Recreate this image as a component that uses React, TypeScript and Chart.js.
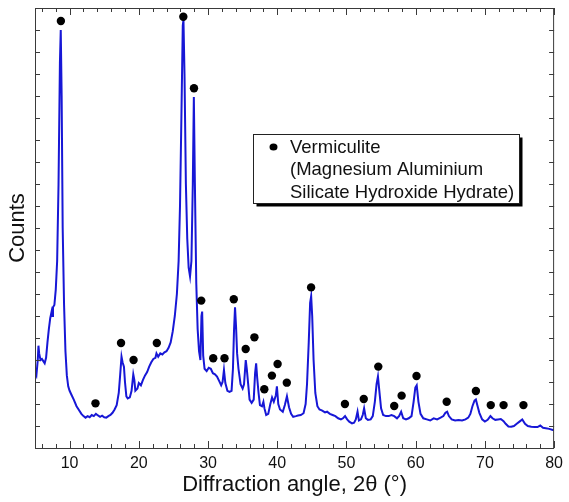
import { useEffect, useRef } from "react";
import { Chart, registerables } from "chart.js";

Chart.register(...registerables);

// XRD pattern: 2θ (deg) and intensity (arbitrary counts)
const twoTheta = [
  5.0, 5.2, 5.4, 5.5, 5.6, 5.8, 6.0, 6.2, 6.4, 6.6, 6.8, 7.0, 7.2, 7.4, 7.5, 7.6, 7.8, 8.0, 8.2, 8.4,
  8.6, 8.72, 8.85, 9.0, 9.2, 9.4, 9.6, 9.8, 10.0, 10.3, 10.6, 11.0, 11.3, 11.7, 12.0, 12.3, 12.6, 12.9, 13.2, 13.5,
  13.8, 14.1, 14.4, 14.7, 15.0, 15.3, 15.6, 15.9, 16.2, 16.5, 16.8, 17.1, 17.3, 17.5, 17.65, 17.85, 18.0, 18.2, 18.4, 18.7,
  18.95, 19.2, 19.35, 19.5, 19.8, 20.0, 20.3, 20.6, 20.9, 21.2, 21.5, 21.8, 22.1, 22.4, 22.55, 22.8, 23.1, 23.4, 23.7, 24.0,
  24.3, 24.6, 24.9, 25.2, 25.5, 25.75, 25.95, 26.15, 26.35, 26.45, 26.6, 26.8, 27.0, 27.2, 27.4, 27.6, 27.8, 27.95, 28.1, 28.3,
  28.5, 28.7, 28.9, 29.05, 29.15, 29.3, 29.5, 29.8, 30.1, 30.4, 30.7, 31.0, 31.3, 31.6, 31.9, 32.1, 32.3, 32.5, 32.8, 33.1,
  33.4, 33.6, 33.75, 33.9, 34.05, 34.2, 34.4, 34.7, 35.0, 35.2, 35.45, 35.6, 35.8, 36.0, 36.3, 36.6, 36.8, 36.95, 37.1, 37.3,
  37.5, 37.8, 38.0, 38.15, 38.4, 38.7, 39.0, 39.25, 39.5, 39.8, 39.95, 40.15, 40.4, 40.8, 41.1, 41.4, 41.7, 42.0, 42.3, 42.7,
  43.0, 43.4, 43.8, 44.1, 44.3, 44.55, 44.75, 44.9, 45.05, 45.25, 45.5, 45.8, 46.1, 46.5, 46.9, 47.2, 47.6, 48.0, 48.4, 48.8,
  49.2, 49.5, 49.8, 50.1, 50.4, 50.8, 51.1, 51.35, 51.6, 51.8, 52.1, 52.35, 52.55, 52.8, 53.1, 53.5, 53.8, 54.1, 54.35, 54.55,
  54.75, 55.0, 55.3, 55.7, 56.1, 56.5, 56.9, 57.3, 57.6, 57.9, 58.2, 58.6, 59.0, 59.4, 59.7, 59.95, 60.15, 60.4, 60.7, 61.1,
  61.6, 62.1, 62.6, 63.1, 63.6, 64.0, 64.3, 64.55, 64.8, 65.2, 65.7, 66.2, 66.7, 67.2, 67.6, 67.9, 68.2, 68.5, 68.7, 68.9,
  69.2, 69.6, 70.0, 70.4, 70.8, 71.1, 71.5, 71.9, 72.3, 72.7, 73.0, 73.4, 73.8, 74.2, 74.6, 75.0, 75.4, 75.8, 76.2, 76.7,
  77.2, 77.6, 78.0, 78.4, 78.8, 79.3, 79.8, 80.0,
];

const counts = [
  345, 330, 400, 465, 430, 400, 405, 395, 385, 410, 480, 540, 590, 620, 600, 640, 650, 720, 850, 1200,
  1750, 1900, 1600, 1000, 650, 440, 330, 280, 260, 240, 220, 190, 175, 155, 145, 138, 145, 140, 150, 145,
  155, 148, 142, 147, 140, 138, 145, 150, 160, 175, 195, 250, 330, 415, 390, 370, 300, 235, 225, 230,
  260, 335, 310, 260, 270, 295, 285, 310, 330, 345, 370, 390, 405, 410, 430, 415, 430, 425, 435, 440,
  455, 480, 530, 600, 700, 850, 1100, 1500, 1920, 1945, 1700, 1200, 950, 820, 780, 850, 1200, 1595, 1200, 750,
  540, 440, 400, 600, 620, 420, 360, 350, 365, 360, 340, 335, 325, 305, 285, 300, 355, 295, 260, 255,
  260, 360, 530, 640, 550, 430, 360, 290, 270, 290, 400, 360, 290, 220, 205, 220, 340, 385, 320, 250,
  195, 190, 210, 180, 150, 155, 200, 230, 210, 240, 280, 200, 175, 165, 195, 235, 185, 155, 142, 145,
  148, 150, 158, 200, 290, 480, 660, 690, 600, 400, 250, 190, 175, 170, 162, 165, 155, 150, 145, 135,
  130, 135, 145, 130, 120, 112, 115, 130, 165, 125, 130, 150, 180, 135, 128, 130, 145, 210, 290, 325,
  260, 180, 150, 145, 145, 150, 145, 135, 145, 165, 135, 130, 135, 145, 210, 275, 285, 210, 155, 135,
  130, 125, 135, 130, 138, 145, 160, 165, 145, 130, 125, 127, 125, 130, 138, 155, 190, 215, 220, 195,
  160, 130, 120, 128, 145, 135, 128, 130, 132, 122, 110, 98, 97, 100, 110, 120, 130, 110, 100, 97,
  95, 95, 102, 92, 90, 87, 82, 82,
];

// Vermiculite reflections marked with dots
const peakTheta = [
  8.74, 13.74, 17.43, 19.24, 22.6, 26.43, 27.97, 29.02, 30.75, 32.38, 33.72, 35.44, 36.7, 38.13, 39.23,
  40.05, 41.38, 44.89, 49.78, 52.5, 54.6, 56.9, 57.97, 60.12, 64.48, 68.7, 70.85, 72.7, 75.57,
];
const peakCounts = [
  1941, 203, 477, 400, 477, 1960, 1635, 670, 408, 408, 676, 450, 503, 267, 329,
  382, 297, 730, 200, 223, 370, 191, 238, 327, 210, 259, 195, 195, 195,
];

const xTickValues = [10, 20, 30, 40, 50, 60, 70, 80];
const xTickLabels = ["10", "20", "30", "40", "50", "60", "70", "80"];
const xMarkTicks = [6, 8, 10, 12, 14, 16, 18, 20, 22, 24, 26, 28, 30, 32, 34, 36, 38, 40, 42, 44, 46, 48, 50, 52, 54, 56, 58, 60, 62, 64, 66, 68, 70, 72, 74, 76, 78, 80];
const yMarkTicks = [100, 200, 300, 400, 500, 600, 700, 800, 900, 1000, 1100, 1200, 1300, 1400, 1500, 1600, 1700, 1800, 1900];

const xTitle = "Diffraction angle, 2\u03b8 (\u00b0)";
const yTitle = "Counts";
const legendLines = ["Vermiculite", "(Magnesium Aluminium", "Silicate Hydroxide Hydrate)"];

const FONT = "'Liberation Sans', Arial, sans-serif";
const LINE_BLUE = "#1717d6";

const frameTicksLegend = {
  id: "frameTicksLegend",
  afterDatasetsDraw(chart: any) {
    const { ctx, chartArea: a, scales } = chart;
    const x = scales.x;
    const y = scales.y;
    ctx.save();
    ctx.strokeStyle = "#3a3a3a";
    ctx.lineWidth = 1;
    ctx.strokeRect(a.left + 0.5, a.top + 0.5, a.right - a.left - 1, a.bottom - a.top);
    ctx.beginPath();
    for (const v of xMarkTicks) {
      const px = Math.round(x.getPixelForValue(v)) + 0.5;
      const len = v % 10 === 0 ? 7 : 4;
      ctx.moveTo(px, a.bottom);
      ctx.lineTo(px, a.bottom - len);
      ctx.moveTo(px, a.top);
      ctx.lineTo(px, a.top + len);
    }
    for (const v of yMarkTicks) {
      const py = Math.round(y.getPixelForValue(v)) + 0.5;
      ctx.moveTo(a.left, py);
      ctx.lineTo(a.left + 5, py);
      ctx.moveTo(a.right, py);
      ctx.lineTo(a.right - 5, py);
    }
    ctx.stroke();

    // legend box
    const bx = a.left + 218.5;
    const by = a.top + 126.5;
    const bw = 266;
    const bh = 69;
    ctx.fillStyle = "#000";
    ctx.fillRect(bx + 3, by + 3, bw, bh);
    ctx.fillStyle = "#fff";
    ctx.fillRect(bx, by, bw, bh);
    ctx.strokeStyle = "#222";
    ctx.strokeRect(bx, by, bw, bh);
    ctx.fillStyle = "#000";
    ctx.beginPath();
    ctx.ellipse(bx + 20, by + 12.5, 4, 3.5, 0, 0, Math.PI * 2);
    ctx.fill();
    ctx.font = `18.5px ${FONT}`;
    ctx.textBaseline = "middle";
    ctx.textAlign = "left";
    ctx.fillStyle = "#111";
    legendLines.forEach((t, i) => {
      ctx.fillText(t, bx + 36.5, by + 13 + i * 22.5);
    });
    ctx.restore();
  },
};

export default function App() {
  const canvasRef = useRef<HTMLCanvasElement | null>(null);

  useEffect(() => {
    if (!canvasRef.current) return;
    const lineData = twoTheta.map((t, i) => ({ x: t, y: counts[i] }));
    const peakData = peakTheta.map((t, i) => ({ x: t, y: peakCounts[i] }));
    const chart = new Chart(canvasRef.current, {
      type: "scatter",
      data: {
        datasets: [
          {
            label: "pattern",
            data: lineData,
            showLine: true,
            borderColor: LINE_BLUE,
            borderWidth: 2,
            pointRadius: 0,
            tension: 0,
            order: 2,
          },
          {
            label: "Vermiculite",
            data: peakData,
            showLine: false,
            pointStyle: "circle",
            pointRadius: 4.2,
            backgroundColor: "#000",
            borderWidth: 0,
            order: 1,
          },
        ],
      },
      options: {
        responsive: false,
        animation: false,
        layout: { padding: { top: 8, right: 12, left: 0, bottom: 0 } },
        plugins: {
          legend: { display: false },
          tooltip: { enabled: false },
        },
        scales: {
          x: {
            type: "linear",
            position: "bottom",
            min: 5,
            max: 80,
            grid: { display: false, drawTicks: false },
            border: { display: false },
            afterBuildTicks: (s: any) => {
              s.ticks = xTickValues.map((v) => ({ value: v }));
            },
            afterFit: (s: any) => {
              s.height = 54;
            },
            ticks: {
              autoSkip: false,
              maxRotation: 0,
              padding: 6,
              color: "#111",
              font: { family: FONT, size: 16 },
              callback: (v: any) => {
                const i = xTickValues.indexOf(Number(v));
                return i >= 0 ? xTickLabels[i] : "";
              },
            },
            title: {
              display: true,
              text: xTitle,
              color: "#111",
              font: { family: FONT, size: 22 },
              padding: { top: 0, bottom: 4 },
            },
          },
          y: {
            type: "linear",
            min: 0,
            max: 2000,
            grid: { display: false, drawTicks: false },
            border: { display: false },
            ticks: { display: false },
            afterFit: (s: any) => {
              s.width = 35;
            },
            title: {
              display: true,
              text: yTitle,
              color: "#111",
              font: { family: FONT, size: 22 },
              padding: { top: 5, bottom: 0 },
            },
          },
        },
      },
      plugins: [frameTicksLegend],
    });
    return () => chart.destroy();
  }, []);

  return (
    <div style={{ position: "absolute", left: 0, top: 0, width: 569, height: 502, background: "#fff" }}>
      <canvas ref={canvasRef} width={569} height={502} style={{ display: "block" }} />
    </div>
  );
}
